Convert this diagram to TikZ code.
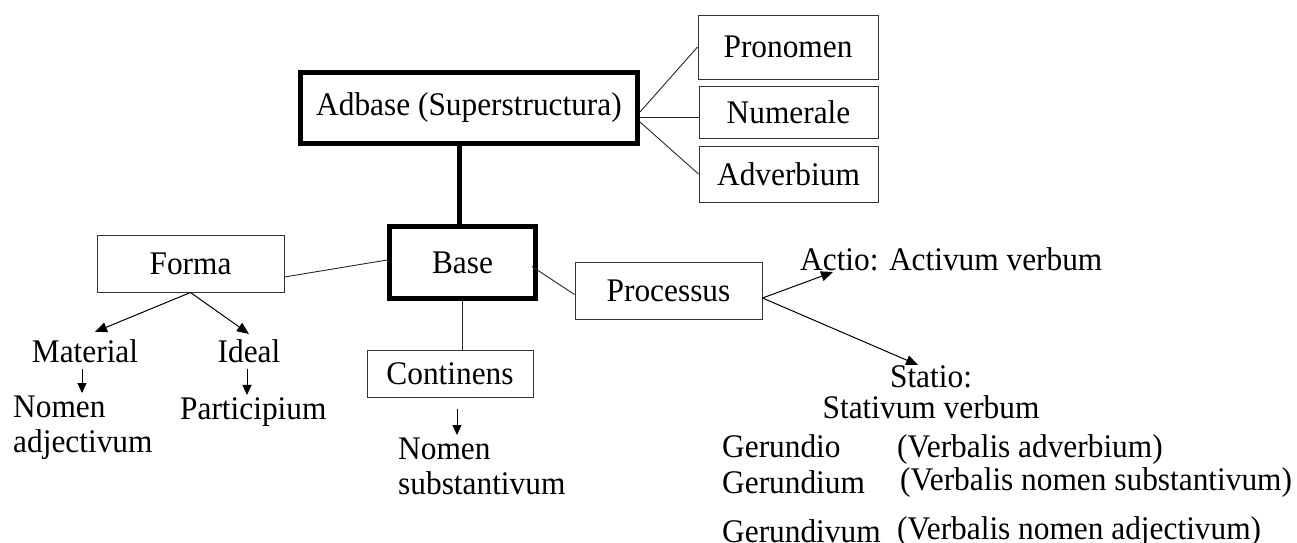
\documentclass[tikz,border=0pt]{standalone}
\usepackage{fontspec}
\setmainfont[FakeStretch=0.95]{Liberation Serif}
\usetikzlibrary{arrows.meta, calc}

\begin{document}
\begin{tikzpicture}[x=1pt, y=-1pt]
    \tikzset{
        word/.style={inner sep=0pt, font=\fontsize{33}{35}\selectfont},
        thinbox/.style={word, draw=black!80, line width=1pt},
        thickbox/.style={word, draw, line width=5pt},
        link/.style={line width=0.9pt, black!85},
        arr/.style={line width=1pt, -{Triangle[length=12pt, width=10pt]}},
        smallarr/.style={line width=1pt, -{Triangle[length=10pt, width=9pt]}}
    }
    \useasboundingbox (0,0) rectangle (1297,542);

    % --- TOP: Adbase with its three word classes ---
    \node[thickbox, minimum width=337pt, minimum height=71pt] (adbase) at (469,108) {Adbase (Superstructura)};
    \node[thinbox, minimum width=180pt, minimum height=64pt] (pronomen) at (788,47) {Pronomen};
    \node[thinbox, minimum width=179pt, minimum height=52pt] (numerale) at (788.5,112) {Numerale};
    \node[thinbox, minimum width=179pt, minimum height=56pt] (adverbium) at (788.5,174) {Adverbium};

    \draw[link] ([yshift=-4pt]adbase.east) -- (pronomen.west);
    \draw[link] ([yshift=-9pt]adbase.east) -- ([yshift=-5pt]numerale.west);
    \draw[link] ([yshift=-14pt]adbase.east) -- (adverbium.west);

    % --- MIDDLE: Base and the three boxes round it ---
    \node[thickbox, minimum width=146pt, minimum height=72pt] (base) at (462.5,262.5) {Base};
    \node[thinbox, minimum width=187pt, minimum height=57pt] (forma) at (190.5,263.5) {Forma};
    \node[thinbox, minimum width=166pt, minimum height=47pt] (continens) at (450,373.5) {Continens};
    \node[thinbox, minimum width=187pt, minimum height=57pt] (processus) at (668.5,290.5) {Processus};

    \draw[line width=5pt] ($(adbase.south -| base.north)+(-3,0)$) -- ([xshift=-3pt]base.north);
    \draw[link] ([yshift=-13.5pt]forma.east) -- ([yshift=2.5pt]base.west);
    \draw[link] (base.south) -- (base.south |- continens.north);
    \draw[link] ([xshift=-6pt, yshift=-4pt]base.east) -- ([yshift=-4pt]processus.west);

    % --- LEFT: Forma splits in two ---
    \node[word, anchor=base] (material) at (85,362) {Material};
    \node[word, anchor=base] (ideal) at (249,362) {Ideal};
    \node[word, anchor=north west, align=left] (nomenadj) at (13,396) {Nomen\\adjectivum};
    \node[word, anchor=base west] (participium) at (180,419) {Participium};

    \draw[arr] (forma.south) -- ([shift={(10pt,7pt)}]material.north);
    \draw[arr] (forma.south) -- ([yshift=5pt]ideal.north);
    \draw[smallarr] ($(material.south)+(-3,6)$) -- ($(material.south |- nomenadj.north)+(-3,-3)$);
    \draw[smallarr] ($(ideal.south)+(-2,6)$) -- ($(ideal.south |- participium.north)+(-2,-2)$);

    % --- Continens ---
    \node[word, anchor=north west, align=left] (nomensub) at (398,438) {Nomen\\substantivum};
    \draw[smallarr] ($(continens.south)+(7,11)$) -- ($(continens.south |- nomensub.north)+(7,-3)$);

    % --- RIGHT: Processus, actio and statio ---
    \node[word, anchor=base west] (actio) at (800,270) {Actio: Activum verbum};
    \node[word, anchor=north, align=center, font=\fontsize{33}{31}\selectfont] (statio) at (931,365) {Statio:\\Stativum verbum};
    \coordinate (pout) at ($(processus.east)+(0,7.5)$);
    \draw[arr] (pout) -- ($(actio.base west)+(33,2)$);
    \draw[arr] (pout) -- ($(statio.north)+(-13,0)$);

    % Verbal forms
    \node[word, anchor=base west] (gdo) at (722,457) {Gerundio};
    \node[word, anchor=base west] (gdoNote) at (897,457) {(Verbalis adverbium)};
    \node[word, anchor=base west] (gdm) at (722,493) {Gerundium};
    \node[word, anchor=base west] (gdmNote) at (900,490) {(Verbalis nomen substantivum)};
    \node[word, anchor=base west] (gdv) at (722,542) {Gerundivum};
    \node[word, anchor=base west] (gdvNote) at (897,539) {(Verbalis nomen adjectivum)};
\end{tikzpicture}
\end{document}
